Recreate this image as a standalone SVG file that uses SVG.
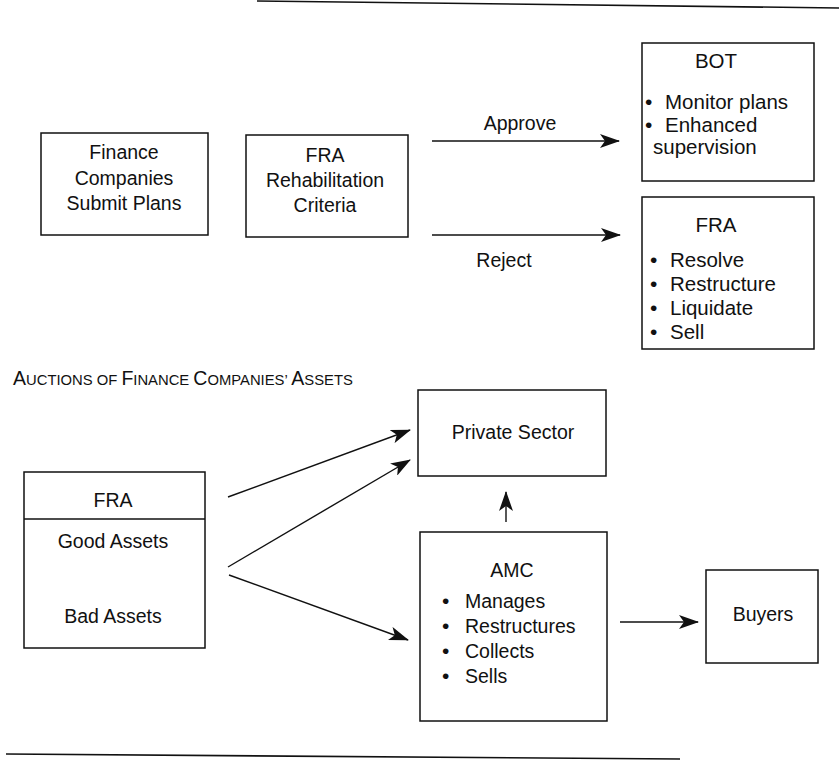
<svg xmlns="http://www.w3.org/2000/svg" width="839" height="761" viewBox="0 0 839 761">
<style>
text{font-family:"Liberation Sans",Arial,Helvetica,sans-serif;font-size:19.5px;fill:#111}
.c{text-anchor:middle}
.r{font-size:20.5px}
.box{fill:#fff;stroke:#111;stroke-width:1.5}
.ln{stroke:#111;stroke-width:1.4;fill:none}
.rule{stroke:#111;stroke-width:1.6;fill:none}
.b{font-size:21px}
</style>
<defs>
<marker id="ah" viewBox="0 0 20 14" refX="19" refY="7" markerWidth="20" markerHeight="14" markerUnits="userSpaceOnUse" orient="auto">
<path d="M0,0 L20,7 L0,14 L5,7 z" fill="#111"/>
</marker>
</defs>
<rect width="839" height="761" fill="#fff"/>
<line class="rule" x1="257" y1="1" x2="839" y2="8"/>
<line class="rule" x1="6" y1="754" x2="680" y2="759"/>

<g id="finance-companies">
<rect class="box" x="41" y="133" width="167" height="102"/>
<text class="c" x="124" y="159">Finance</text>
<text class="c" x="124" y="185">Companies</text>
<text class="c" x="124" y="210">Submit Plans</text>
</g>
<g id="fra-criteria">
<rect class="box" x="246" y="135" width="162" height="102"/>
<text class="c" x="325" y="162">FRA</text>
<text class="c" x="325" y="187">Rehabilitation</text>
<text class="c" x="325" y="212">Criteria</text>
</g>
<g id="bot">
<rect class="box" x="642" y="43" width="172" height="138"/>
<text class="c r" x="716" y="68">BOT</text>
<text class="r" x="645" y="109"><tspan class="b">•</tspan><tspan x="665">Monitor plans</tspan></text>
<text class="r" x="645" y="132"><tspan class="b">•</tspan><tspan x="665">Enhanced</tspan></text>
<text class="r" x="653" y="154">supervision</text>
</g>
<g id="fra-resolve">
<rect class="box" x="642" y="197" width="172" height="152"/>
<text class="c r" x="716" y="232">FRA</text>
<text class="r" x="650" y="267"><tspan class="b">•</tspan><tspan x="670">Resolve</tspan></text>
<text class="r" x="650" y="291"><tspan class="b">•</tspan><tspan x="670">Restructure</tspan></text>
<text class="r" x="650" y="315"><tspan class="b">•</tspan><tspan x="670">Liquidate</tspan></text>
<text class="r" x="650" y="339"><tspan class="b">•</tspan><tspan x="670">Sell</tspan></text>
</g>

<text x="13" y="385"><tspan font-size="19.5">A</tspan><tspan font-size="14.8">UCTIONS OF </tspan><tspan font-size="19.5">F</tspan><tspan font-size="14.8">INANCE </tspan><tspan font-size="19.5">C</tspan><tspan font-size="14.8">OMPANIES’ </tspan><tspan font-size="19.5">A</tspan><tspan font-size="14.8">SSETS</tspan></text>

<g id="fra-assets">
<rect class="box" x="24" y="472" width="181" height="176"/>
<line class="ln" x1="24" y1="519" x2="205" y2="519" stroke-width="1.5"/>
<text class="c" x="113" y="507">FRA</text>
<text class="c" x="113" y="548">Good Assets</text>
<text class="c" x="113" y="623">Bad Assets</text>
</g>
<g id="private-sector">
<rect class="box" x="418" y="390" width="188" height="86"/>
<text class="c" x="513" y="439">Private Sector</text>
</g>
<g id="amc">
<rect class="box" x="420" y="532" width="187" height="189"/>
<text class="c" x="512" y="577">AMC</text>
<text x="442" y="608"><tspan class="b">•</tspan><tspan x="465">Manages</tspan></text>
<text x="442" y="633"><tspan class="b">•</tspan><tspan x="465">Restructures</tspan></text>
<text x="442" y="658"><tspan class="b">•</tspan><tspan x="465">Collects</tspan></text>
<text x="442" y="683"><tspan class="b">•</tspan><tspan x="465">Sells</tspan></text>
</g>
<g id="buyers">
<rect class="box" x="706" y="570" width="112" height="93"/>
<text class="c" x="763" y="621">Buyers</text>
</g>

<g id="connectors">
<line class="ln" x1="432" y1="141" x2="619" y2="141" marker-end="url(#ah)"/>
<text class="c" x="520" y="130">Approve</text>
<line class="ln" x1="432" y1="235" x2="620" y2="235" marker-end="url(#ah)"/>
<text class="c" x="504" y="267">Reject</text>
<line class="ln" x1="228" y1="497" x2="410" y2="430" marker-end="url(#ah)"/>
<line class="ln" x1="228" y1="567" x2="410" y2="460" marker-end="url(#ah)"/>
<line class="ln" x1="229" y1="575" x2="408" y2="640" marker-end="url(#ah)"/>
<line class="ln" x1="506" y1="522" x2="506" y2="492" marker-end="url(#ah)"/>
<line class="ln" x1="620" y1="622" x2="698" y2="622" marker-end="url(#ah)"/>
</g>
</svg>
